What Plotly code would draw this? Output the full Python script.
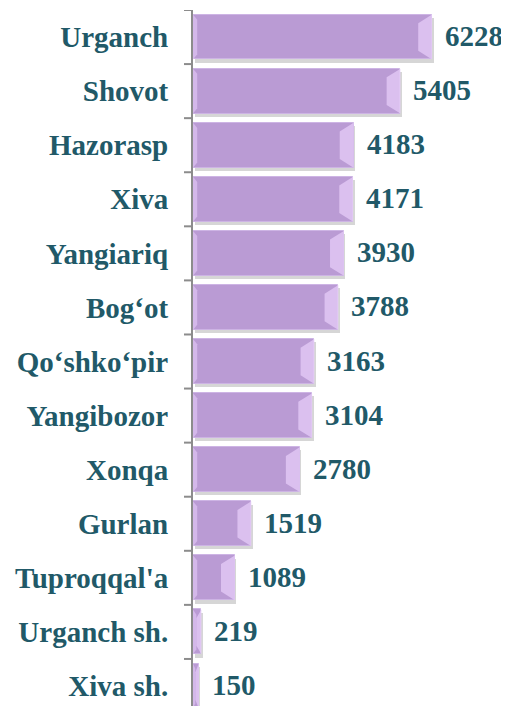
import plotly.graph_objects as go

# districts, top to bottom
districts = ["Urganch", "Shovot", "Hazorasp", "Xiva", "Yangiariq", "Bog‘ot",
             "Qo‘shko‘pir", "Yangibozor", "Xonqa", "Gurlan", "Tuproqqal'a",
             "Urganch sh.", "Xiva sh."]
values = [6228, 5405, 4183, 4171, 3930, 3788, 3163, 3104, 2780, 1519, 1089, 219, 150]

TEAL = "#215968"
BAR = "#BA9BD4"
EDGE = "#E6CCF8"
AXIS = "#8C8C8C"
SERIF = "Liberation Serif"

half = 0.415
bevel_x = 360   # ~14px in x units
bevel_y = 0.16

fig = go.Figure()

# soft shadow under the bars
fig.add_trace(go.Bar(
    x=values, y=[i + 0.06 for i in range(len(values))],
    orientation="h", width=2 * half,
    marker=dict(color="rgba(120,120,120,0.3)", line=dict(width=0)),
    hoverinfo="skip", showlegend=False, base=40,
))

fig.add_trace(go.Bar(
    x=values, y=list(range(len(values))), orientation="h", width=2 * half,
    marker=dict(color=BAR, line=dict(color="#CDB4E4", width=1)),
    showlegend=False,
))

shapes = []
for i, v in enumerate(values):
    w = min(bevel_x, v * 0.6)
    top, bot = i - half, i + half
    # right bevel
    shapes.append(dict(
        type="path", xref="x", yref="y", line=dict(width=0),
        fillcolor=EDGE, opacity=0.75,
        path=f"M {v - w},{top + bevel_y} L {v},{top} L {v},{bot} L {v - w},{bot - bevel_y} Z",
    ))
    # left bevel
    lw = min(110, v * 0.4)
    shapes.append(dict(
        type="path", xref="x", yref="y", line=dict(width=0),
        fillcolor=EDGE, opacity=0.6,
        path=f"M 0,{top} L {lw},{top + bevel_y * 0.6} L {lw},{bot - bevel_y * 0.6} L 0,{bot} Z",
    ))

# tick marks at category boundaries, pointing left from the axis
for i in range(len(districts) + 1):
    shapes.append(dict(
        type="line", xref="paper", yref="y",
        x0=-9 / 316, x1=0, y0=i - 0.5, y1=i - 0.5,
        line=dict(color=AXIS, width=2),
    ))

annotations = []
for i, v in enumerate(values):
    annotations.append(dict(
        x=v, y=i, xref="x", yref="y", text=f"<b>{v}</b>", showarrow=False,
        xanchor="left", yanchor="middle", xshift=11, yshift=1,
        font=dict(family=SERIF, size=29, color=TEAL),
    ))

# page body has an 8px margin, so shift the plot area up/left by that much
fig.update_layout(
    width=509, height=706,
    margin=dict(l=185, r=8, t=2, b=8, autoexpand=False),
    plot_bgcolor="white", paper_bgcolor="white",
    barmode="overlay", bargap=0,
    shapes=shapes, annotations=annotations,
    xaxis=dict(range=[0, 8233], visible=False, automargin=False),
    yaxis=dict(
        range=[12.37, -0.5],
        tickmode="array",
        tickvals=list(range(len(districts))),
        ticktext=[f"<b>{d}</b>" for d in districts],
        tickfont=dict(family=SERIF, size=29, color=TEAL),
        showline=True, linecolor=AXIS, linewidth=2,
        showgrid=False, zeroline=False, automargin=False,
        ticks="", ticklabelstandoff=17,
    ),
)

fig.write_html("out.html")
